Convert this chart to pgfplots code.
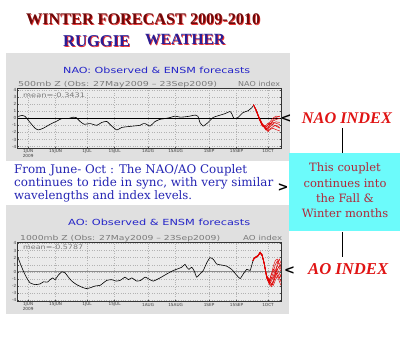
\documentclass[border=0pt]{standalone}
\usepackage{pgfplots}
\pgfplotsset{compat=1.18}
\usepackage{fontspec}
\setmainfont{DejaVu Serif}
\setsansfont{DejaVu Sans}
\newfontfamily\titlefont{Liberation Serif}
\usepackage{graphicx}
\definecolor{panel}{HTML}{E0E0E0}
\definecolor{plotbg}{HTML}{EBEBEB}
\definecolor{cyanbox}{HTML}{6CFBFB}
\definecolor{darkred}{HTML}{6E0A0A}
\definecolor{ttlred}{HTML}{E83030}
\definecolor{ruggblue}{HTML}{2A1E96}
\definecolor{parblue}{HTML}{2626B4}
\definecolor{cyantext}{HTML}{B0283A}
\definecolor{idxred}{HTML}{E01414}
\definecolor{gradsblue}{HTML}{2424C8}
\definecolor{gradsgray}{HTML}{7A7A7A}
\definecolor{ensred}{HTML}{E00000}
\pgfplotsset{
  gradsaxis/.style={
    anchor=south west, scale only axis, width=263.5pt,
    xmin=-0.4, xmax=133.6,
    axis background/.style={fill=plotbg},
    axis line style={black!80, line width=0.5pt},
    xtick={5,19,35,49,66,80,97,111,127},
    xticklabels={{1JUN\\2009},15JUN,1JUL,15JUL,1AUG,15AUG,1SEP,15SEP,1OCT},
    ytick={-4,-3,-2,-1,0,1,2,3,4},
    grid=major, grid style={black!30, dotted, line width=0.35pt},
    tick style={black!70, line width=0.3pt}, major tick length=1.2pt,
    tick label style={font=\fontsize{4.2}{4.5}\selectfont\sffamily, text=black!75},
    xticklabel style={align=center, inner sep=1pt},
    yticklabel style={inner sep=1pt},
    /pgf/number format/assume math mode=true,
    no marks,
  },
  obs/.style={black, line width=0.6pt, smooth, tension=0.3},
  ens/.style={ensred, line width=0.45pt},
}
\begin{document}
\begin{tikzpicture}[x=1pt,y=1pt]
\fill[white] (0,0) rectangle (400,337);
% panels
\fill[panel] (6,176) rectangle (290,284);
\fill[panel] (6,23) rectangle (289,132);
% cyan box and connector lines
\draw[black, line width=1.2pt] (342.7,209) -- (342.7,184);
\draw[black, line width=1.2pt] (342.7,105) -- (342.7,80);
\fill[cyanbox] (289,106) rectangle (400,184.3);

% NAO axis
\begin{axis}[gradsaxis, at={(17.5pt,188.5pt)}, height=60.5pt, ymin=-4.27, ymax=4.27]
\addplot[black, line width=0.45pt] coordinates {(-0.4,0)(133.6,0)};
\addplot[obs] coordinates {(0,0.25)(1.8,0.4)(3.5,0.25)(6,-0.6)(8.5,-1.4)(10.2,-1.65)(12.8,-1.4)(16.2,-0.85)(19.6,-0.4)(22.1,-0.05)(25.3,-0.05)(27.9,0.15)(29.4,0.1)(31.4,-0.45)(33.5,-0.85)(36.5,-0.75)(39.9,-1.0)(42.4,-0.6)(45,-0.45)(47.5,-1.1)(50.1,-1.65)(52.6,-1.3)(55.2,-1.2)(58.5,-1.1)(61.9,-1.0)(63.6,-0.75)(64.5,-0.75)(67,-1.1)(69.5,-0.47)(72.1,-0.15)(74.6,-0.05)(77.2,0.1)(79.7,0.3)(82.3,0.15)(84.8,0.2)(87.3,0.3)(89.9,0.45)(91.4,0.25)(92.4,-0.6)(94,-1.1)(96.5,-0.6)(99,0.1)(101.6,0.35)(105.1,0.65)(107.7,0.95)(108.7,0.55)(109.7,-0.05)(111.7,0.1)(114.3,0.8)(116.8,1.05)(118.8,1.5)(119.8,1.9)};
\addplot[ens] coordinates {(119.6,1.9)(121,1.2)(122.5,0.1)(124,-0.8)(125,-1.2)(126,-1.5)(127,-1.3)(128,-0.8)(129.5,-0.3)(131,0.1)(133,0.3)};
\addplot[ens] coordinates {(119.6,1.9)(121,1.0)(122.5,-0.1)(124,-0.9)(125,-1.2)(126,-1.3)(127,-1.0)(128,-0.5)(129.5,0.0)(131,0.3)(133,0.2)};
\addplot[ens] coordinates {(119.6,1.9)(121,1.1)(122.5,0.0)(124,-1.0)(125,-1.1)(126,-1.4)(127,-1.6)(128,-1.2)(129.5,-0.8)(131,-0.5)(133,-0.6)};
\addplot[ens] coordinates {(119.6,1.9)(121,1.15)(122.5,-0.05)(124,-1.1)(125,-1.2)(126,-1.6)(127,-1.8)(128,-1.5)(129.5,-1.2)(131,-1.0)(133,-1.3)};
\addplot[ens] coordinates {(119.6,1.9)(121,1.05)(122.5,0.05)(124,-0.8)(125,-1.0)(126,-1.2)(127,-0.9)(128,-0.7)(129.5,-0.9)(131,-1.1)(133,-1.4)};
\addplot[ens] coordinates {(119.6,1.9)(121,1.1)(122.5,-0.15)(124,-1.0)(125,-1.3)(126,-1.7)(127,-1.4)(128,-1.0)(129.5,-0.6)(131,-0.7)(133,-0.9)};
\addplot[ens] coordinates {(119.6,1.9)(121,1.2)(122.5,0.15)(124,-0.7)(125,-1.1)(126,-1.0)(127,-0.7)(128,-0.9)(129.5,-0.4)(131,-0.2)(133,0.0)};
\addplot[ens] coordinates {(119.6,1.9)(121,1.0)(122.5,-0.1)(124,-0.95)(125,-1.2)(126,-1.5)(127,-1.9)(128,-1.6)(129.5,-1.4)(131,-1.6)(133,-1.8)};
\end{axis}

% AO axis
\begin{axis}[gradsaxis, at={(17.5pt,35.3pt)}, height=59.7pt, ymin=-4.2, ymax=4.2]
\addplot[black!45, line width=0.7pt] coordinates {(-0.4,0)(133.6,0)};
\addplot[obs] coordinates {(0,1.9)(0.9,1.25)(2.6,0.1)(4.3,-0.85)(6,-1.55)(8.5,-1.8)(11.1,-1.7)(12.8,-1.4)(14.8,-1.45)(16.2,-1.1)(17.5,-0.85)(18.7,-1.1)(20.4,-0.45)(22.1,0)(23.8,-0.15)(25.5,-0.75)(27.2,-1.3)(29.7,-1.8)(32.3,-2.15)(34.5,-2.35)(36.5,-2.25)(39,-2.0)(41.6,-1.9)(43.3,-1.55)(45,-1.2)(47.5,-1.1)(49.7,-1.3)(51.8,-1.2)(54.3,-0.75)(56,-1.1)(57.7,-0.85)(60.2,-1.3)(62.3,-1.2)(64.5,-0.75)(67,-1.1)(68.7,-1.3)(72.1,-0.85)(75.5,-0.3)(78.9,0.2)(81.4,0.45)(83.1,0.65)(84.8,1.05)(85.7,0.65)(86.8,0.35)(88.2,0.65)(89.5,0.1)(90.7,-0.75)(92.4,-0.3)(94.1,0.2)(95.8,1.25)(97.5,2.0)(99.2,1.75)(100.9,1.1)(103.5,0.95)(106,0.8)(108.5,0.35)(111,-0.45)(112.8,-0.95)(114.4,-0.3)(116.2,0.35)(117.9,0.2)(119,1.2)(119.6,1.7)};
\addplot[ens] coordinates {(119.3,1.6)(120,1.9)(121,2.1)(122,2.3)(123,2.7)(124,2.3)(125,1.25)(126.3,-0.65)(127.7,-1.5)(128.7,-1.0)(129.7,0.0)(130.7,1.0)(131.7,1.5)(132.7,1.0)(133.6,0.6)};
\addplot[ens] coordinates {(119.3,1.6)(120,2.0)(121,2.0)(122,2.4)(123,2.8)(124,2.4)(125,1.3)(126.3,-0.5)(127.7,-1.3)(128.7,-0.3)(129.7,0.8)(130.7,1.6)(131.7,1.8)(132.7,1.2)(133.6,0.9)};
\addplot[ens] coordinates {(119.3,1.6)(120,1.9)(121,2.2)(122,2.3)(123,2.6)(124,2.2)(125,1.1)(126.3,-0.8)(127.7,-1.6)(128.7,-1.9)(129.7,-1.2)(130.7,-0.3)(131.7,0.4)(132.7,-0.2)(133.6,-0.8)};
\addplot[ens] coordinates {(119.3,1.6)(120,1.8)(121,2.1)(122,2.2)(123,2.7)(124,2.5)(125,1.4)(126.3,-0.6)(127.7,-1.4)(128.7,-1.6)(129.7,-1.9)(130.7,-1.2)(131.7,-0.6)(132.7,-1.3)(133.6,-1.9)};
\addplot[ens] coordinates {(119.3,1.6)(120,1.9)(121,2.1)(122,2.35)(123,2.75)(124,2.3)(125,1.2)(126.3,-0.5)(127.7,-1.1)(128.7,-0.4)(129.7,0.4)(130.7,0.1)(131.7,-0.5)(132.7,-0.9)(133.6,-0.3)};
\addplot[ens] coordinates {(119.3,1.6)(120,2.0)(121,2.15)(122,2.3)(123,2.65)(124,2.3)(125,1.2)(126.3,-0.8)(127.7,-1.7)(128.7,-1.3)(129.7,-0.6)(130.7,0.2)(131.7,0.9)(132.7,0.5)(133.6,0.1)};
\addplot[ens] coordinates {(119.3,1.6)(120,1.9)(121,2.05)(122,2.25)(123,2.7)(124,2.4)(125,1.3)(126.3,-0.7)(127.7,-1.2)(128.7,-1.8)(129.7,-1.4)(130.7,-0.8)(131.7,-0.1)(132.7,-0.7)(133.6,-1.4)};
\addplot[ens] coordinates {(119.3,1.6)(120,1.85)(121,2.1)(122,2.3)(123,2.8)(124,2.35)(125,1.15)(126.3,-0.9)(127.7,-1.8)(128.7,-2.1)(129.7,-1.5)(130.7,-0.6)(131.7,1.1)(132.7,1.8)(133.6,1.2)};
\addplot[ens] coordinates {(119.3,1.6)(120,1.9)(121,2.1)(122,2.3)(123,2.7)(124,2.3)(125,1.25)(126.3,-0.7)(127.7,-1.5)(128.7,-0.8)(129.7,-0.9)(130.7,-0.2)(131.7,0.3)(132.7,0.8)(133.6,0.4)};
\end{axis}

% main title
\node[anchor=base west, inner sep=0, text=ttlred] at (26.8,311.2) {\resizebox{234pt}{!}{\titlefont\bfseries WINTER FORECAST 2009-2010}};
\node[anchor=base west, inner sep=0, text=darkred] at (26,312) {\resizebox{234pt}{!}{\titlefont\bfseries WINTER FORECAST 2009-2010}};
\node[anchor=base west, inner sep=0, text=ttlred] at (63.8,289.5) {\resizebox{67pt}{!}{\titlefont\bfseries RUGGIE}};
\node[anchor=base west, inner sep=0, text=ruggblue] at (63,290.3) {\resizebox{67pt}{!}{\titlefont\bfseries RUGGIE}};
\node[anchor=base west, inner sep=0, text=ttlred] at (145.8,291.2) {\resizebox{80pt}{!}{\titlefont\bfseries WEATHER}};
\node[anchor=base west, inner sep=0, text=ruggblue] at (145,292) {\resizebox{80pt}{!}{\titlefont\bfseries WEATHER}};

% NAO panel texts
\node[anchor=base west, inner sep=0, text=gradsblue] at (63,263.7) {\resizebox{187pt}{6.4pt}{\sffamily NAO: Observed \& ENSM forecasts}};
\node[anchor=base west, inner sep=0, text=gradsgray] at (18,250.2) {\resizebox{199pt}{5.2pt}{\sffamily 500mb Z (Obs: 27May2009 -- 23Sep2009)}};
\node[anchor=base west, inner sep=0, text=gradsgray] at (238,250.2) {\resizebox{42pt}{5.2pt}{\sffamily NAO index}};
\node[anchor=base west, inner sep=0, text=gradsgray] at (23,239.3) {\resizebox{62pt}{4.6pt}{\sffamily mean=-0.3431}};

% AO panel texts
\node[anchor=base west, inner sep=0, text=gradsblue] at (68,111) {\resizebox{182pt}{6.4pt}{\sffamily AO: Observed \& ENSM forecasts}};
\node[anchor=base west, inner sep=0, text=gradsgray] at (20,96.3) {\resizebox{200pt}{5.2pt}{\sffamily 1000mb Z (Obs: 27May2009 -- 23Sep2009)}};
\node[anchor=base west, inner sep=0, text=gradsgray] at (243,96.3) {\resizebox{39pt}{5.2pt}{\sffamily AO index}};
\node[anchor=base west, inner sep=0, text=gradsgray] at (23,87.3) {\resizebox{60pt}{4.6pt}{\sffamily mean=-0.5787}};

% paragraph
\node[anchor=base west, inner sep=0, text=parblue] at (14,163) {\resizebox{233pt}{!}{From June- Oct : The NAO/AO Couplet}};
\node[anchor=base west, inner sep=0, text=parblue] at (14,150.3) {\resizebox{259pt}{!}{continues to ride in sync, with very similar}};
\node[anchor=base west, inner sep=0, text=parblue] at (14,137) {\resizebox{178pt}{!}{wavelengths and index levels.}};

% cyan box text
\begin{scope}[every node/.style={anchor=base, inner sep=0, text=cyantext, font=\fontsize{11.5}{13}\selectfont}]
\node at (345,165.3) {This couplet};
\node at (345,149.7) {continues into};
\node at (345,134.7) {the Fall \&};
\node at (345,119.7) {Winter months};
\end{scope}

% index labels
\node[anchor=base west, inner sep=0, text=idxred] at (301.7,213.7) {\resizebox{90pt}{!}{\titlefont\bfseries\itshape NAO INDEX}};
\node[anchor=base west, inner sep=0, text=idxred] at (308,62) {\resizebox{80pt}{!}{\titlefont\bfseries\itshape AO INDEX}};
\node[inner sep=0, font=\sffamily\bfseries\fontsize{13}{13}\selectfont] at (286,218) {<};
\node[inner sep=0, font=\sffamily\bfseries\fontsize{13}{13}\selectfont] at (283,149) {>};
\node[inner sep=0, font=\sffamily\bfseries\fontsize{13}{13}\selectfont] at (289.5,66) {<};
\end{tikzpicture}
\end{document}
